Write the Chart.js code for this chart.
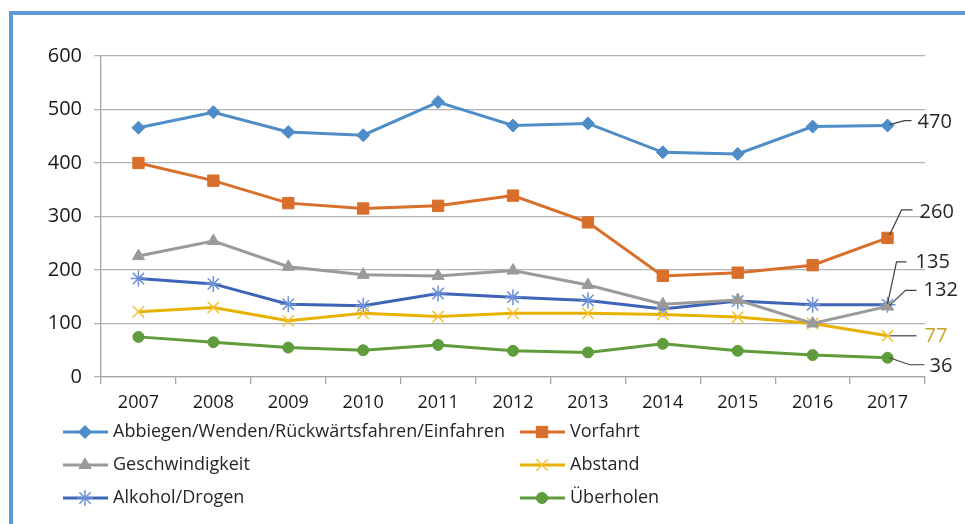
<!DOCTYPE html>
<html>
<head>
<meta charset="utf-8">
<script src="https://cdn.jsdelivr.net/npm/chart.js"></script>
<style>
  html, body { margin: 0; padding: 0; background: #fff; }
  #wrap { position: relative; width: 965px; height: 524px; overflow: hidden; }
  #frame {
    position: absolute; left: 9px; top: 11px; width: 1000px; height: 600px;
    border-left: 4px solid #5b9bd5; border-top: 4px solid #5b9bd5;
  }
  #c { position: absolute; left: 0; top: 0; }
</style>
</head>
<body>
<div id="wrap">
  <div id="frame"></div>
  <canvas id="c" width="965" height="524"></canvas>
</div>
<script>
const years = ["2007", "2008", "2009", "2010", "2011", "2012", "2013", "2014", "2015", "2016", "2017"];

const abbiegen = [466, 495, 458, 452, 514, 470, 474, 420, 417, 468, 470];
const vorfahrt = [400, 367, 325, 315, 320, 339, 289, 189, 195, 209, 260];
const geschwindigkeit = [226, 254, 206, 191, 189, 199, 172, 136, 144, 100, 132];
const abstand = [122, 130, 105, 119, 113, 119, 119, 117, 112, 100, 77];
const alkohol = [184, 174, 136, 133, 156, 149, 143, 127, 142, 135, 135];
const ueberholen = [75, 65, 55, 50, 60, 49, 46, 62, 49, 41, 36];

const seriesNames = [
  "Abbiegen/Wenden/Rückwärtsfahren/Einfahren",
  "Vorfahrt",
  "Geschwindigkeit",
  "Abstand",
  "Alkohol/Drogen",
  "Überholen",
];

const FONT = "'Open Sans', 'Liberation Sans', sans-serif";

function line(label, data, color, pointStyle, radius, pointColor) {
  return {
    label: label,
    data: data,
    borderColor: color,
    backgroundColor: pointColor || color,
    pointBackgroundColor: pointColor || color,
    pointBorderColor: pointColor || color,
    borderWidth: 3,
    pointStyle: pointStyle,
    pointRadius: radius,
    pointBorderWidth: pointStyle === "star" || pointStyle === "crossRot" ? 1.5 : 1,
    tension: 0,
  };
}

// labels at the last point, with small leader lines
const endLabels = [
  { ds: 0, text: "470", color: "#262626", dx: 30, dy: -3, lead: [[2, -1], [17, -5], [24, -5]] },
  { ds: 1, text: "260", color: "#262626", dx: 32, dy: -26, lead: [[2, -3], [14, -28], [25, -28]] },
  { ds: 4, text: "135", color: "#262626", dx: 28, dy: -42, lead: [[0, -1], [9, -43], [19, -43]] },
  { ds: 2, text: "132", color: "#262626", dx: 36, dy: -16, lead: [[2, -1], [18, -16], [29, -16]] },
  { ds: 3, text: "77", color: "#c9a227", dx: 37, dy: 0, lead: [[2, 0], [29, 0]] },
  { ds: 5, text: "36", color: "#262626", dx: 42, dy: 9, lead: [[2, 0], [22, 7], [37, 7]] },
];

const endLabelPlugin = {
  id: "endLabels",
  afterDatasetsDraw(chart) {
    const ctx = chart.ctx;
    ctx.save();
    ctx.font = "20px " + FONT;
    ctx.textBaseline = "middle";
    endLabels.forEach((l) => {
      const pts = chart.getDatasetMeta(l.ds).data;
      const p = pts[pts.length - 1];
      ctx.strokeStyle = "#404040";
      ctx.lineWidth = 1.2;
      ctx.beginPath();
      l.lead.forEach((o, i) => {
        if (i === 0) ctx.moveTo(p.x + o[0], p.y + o[1]);
        else ctx.lineTo(p.x + o[0], p.y + o[1]);
      });
      ctx.stroke();
      ctx.fillStyle = l.color;
      ctx.fillText(l.text, p.x + l.dx, p.y + l.dy);
    });
    ctx.restore();
  },
};

// two-column legend below the axis
const legendPlugin = {
  id: "gridLegend",
  afterDraw(chart) {
    const ctx = chart.ctx;
    const colX = [63, 520];
    const rowY = [432, 465, 498];
    ctx.save();
    ctx.font = "18px " + FONT;
    ctx.textBaseline = "middle";
    chart.data.datasets.forEach((ds, i) => {
      const x = colX[i % 2];
      const y = rowY[Math.floor(i / 2)];
      ctx.strokeStyle = ds.borderColor;
      ctx.lineWidth = 3;
      ctx.beginPath();
      ctx.moveTo(x, y);
      ctx.lineTo(x + 45, y);
      ctx.stroke();
      ctx.fillStyle = ds.pointBackgroundColor;
      ctx.strokeStyle = ds.pointBorderColor;
      ctx.lineWidth = ds.pointBorderWidth;
      Chart.helpers.drawPoint(ctx, {
        pointStyle: ds.pointStyle,
        radius: ds.pointRadius,
        rotation: 0,
        borderWidth: ds.pointBorderWidth,
      }, x + 22, y);
      ctx.fillStyle = "#262626";
      if (i === 0) ctx.fillText(ds.label, x + 50, y, 392);
      else ctx.fillText(ds.label, x + 50, y);
    });
    ctx.restore();
  },
};

new Chart(document.getElementById("c"), {
  type: "line",
  data: {
    labels: years,
    datasets: [
      line(seriesNames[0], abbiegen, "#4f8dc9", "rectRot", 6.5),
      line(seriesNames[1], vorfahrt, "#d86f2b", "rect", 8),
      line(seriesNames[2], geschwindigkeit, "#9a9a9a", "triangle", 7),
      line(seriesNames[3], abstand, "#e8b100", "crossRot", 8, "#f2c230"),
      line(seriesNames[4], alkohol, "#3e64b8", "star", 8, "#6d90d8"),
      line(seriesNames[5], ueberholen, "#5f9c3b", "circle", 5.5),
    ],
  },
  options: {
    responsive: false,
    animation: false,
    devicePixelRatio: 1,
    layout: { padding: { left: 0, right: 40, top: 56, bottom: 97 } },
    plugins: {
      legend: { display: false },
      tooltip: { enabled: false },
    },
    scales: {
      x: {
        offset: true,
        grid: {
          offset: true,
          drawOnChartArea: false,
          drawTicks: true,
          tickLength: 7,
          color: "#a6a6a6",
          lineWidth: 1.3,
        },
        border: { color: "#a6a6a6", width: 1.3 },
        ticks: {
          color: "#1a1a1a",
          font: { family: FONT, size: 18 },
          padding: 8,
          maxRotation: 0,
        },
        afterFit(s) { s.height = 50; },
      },
      y: {
        min: 0,
        max: 600,
        ticks: {
          stepSize: 100,
          color: "#1a1a1a",
          font: { family: FONT, size: 20 },
          padding: 12,
        },
        grid: {
          color: "#b3b3b3",
          lineWidth: 1.3,
          tickLength: 7,
        },
        border: { color: "#a6a6a6", width: 1.3 },
        afterFit(s) { s.width = 101; },
      },
    },
  },
  plugins: [endLabelPlugin, legendPlugin],
});
</script>
</body>
</html>
